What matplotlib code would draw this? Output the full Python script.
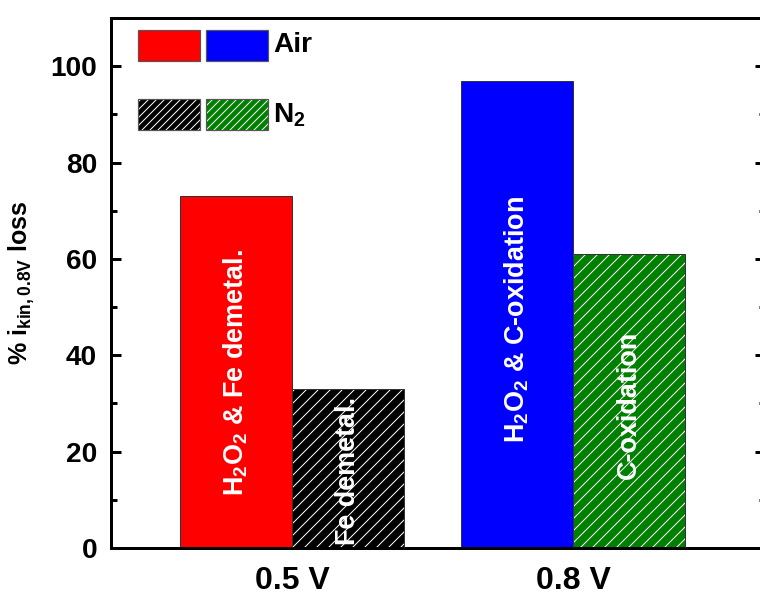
import matplotlib
matplotlib.use("Agg")
import matplotlib.pyplot as plt
from matplotlib.patches import Rectangle
from matplotlib.ticker import MultipleLocator

plt.rcParams['font.family'] = ['Liberation Sans', 'DejaVu Sans']
plt.rcParams['font.weight'] = 'bold'
plt.rcParams['mathtext.fontset'] = 'custom'
plt.rcParams['mathtext.rm'] = 'Liberation Sans:bold'
plt.rcParams['mathtext.bf'] = 'Liberation Sans:bold'
plt.rcParams['mathtext.it'] = 'Liberation Sans:bold'
plt.rcParams['mathtext.default'] = 'bf'
plt.rcParams['hatch.linewidth'] = 1.0

# data
groups = ['0.5 V', '0.8 V']
air_values = [73, 97]
n2_values = [33, 61]
air_colors = ['#ff0000', '#0000ff']
n2_colors = ['#000000', '#008000']
air_labels = ['H$_2$O$_2$ & Fe demetal.', 'H$_2$O$_2$ & C-oxidation']
n2_labels = ['Fe demetal.', 'C-oxidation']

W, H = 760, 592
DPI = 72
fig = plt.figure(figsize=(W / DPI, H / DPI), dpi=DPI)
ax = fig.add_axes([111 / W, 1 - 548 / H, 654 / W, 530 / H])

x = [1, 2]
bw = 0.4
for i in range(len(groups)):
    ax.bar(x[i] - bw / 2, air_values[i], bw, color=air_colors[i], edgecolor='#333333', linewidth=1, zorder=2)
    ax.bar(x[i] + bw / 2, n2_values[i], bw, color=n2_colors[i], edgecolor='white', hatch='//', linewidth=0, zorder=2)
    ax.bar(x[i] + bw / 2, n2_values[i], bw, fill=False, edgecolor='#333333', linewidth=1, zorder=3)

# in-bar text
air_text_y = [36.5, 47.5]
n2_text_y = [16, 29.7]
for i in range(len(groups)):
    ax.text(x[i] - bw / 2, air_text_y[i], air_labels[i], rotation=90, color='white',
            fontsize=27, fontweight='bold', ha='center', va='center', zorder=4)
    ax.text(x[i] + bw / 2, n2_text_y[i], n2_labels[i], rotation=90, color='white',
            fontsize=27, fontweight='bold', ha='center', va='center', zorder=4)

ax.set_xlim(0.356, 2.683)
ax.set_ylim(0, 110)
ax.set_xticks(x)
ax.set_xticklabels(groups, fontsize=32, fontweight='bold')
ax.tick_params(axis='x', length=0, pad=18)
ax.yaxis.set_major_locator(MultipleLocator(20))
ax.yaxis.set_minor_locator(MultipleLocator(10))
ax.tick_params(axis='y', which='major', direction='in', length=10, width=3,
               labelsize=28, pad=14, right=True)
ax.tick_params(axis='y', which='minor', direction='in', length=6, width=3, right=True)
ax.set_yticks([0, 20, 40, 60, 80, 100])
for lab in ax.get_yticklabels():
    lab.set_fontweight('bold')
for s in ax.spines.values():
    s.set_linewidth(3)

ax.set_ylabel('% i$_{kin,0.8V}$ loss', fontsize=25, fontweight='bold')
ax.yaxis.set_label_coords(-0.113, 0.5)

# legend boxes (figure pixel coordinates)
def px_rect(x0, y0, w, h, **kw):
    r = Rectangle((x0 / W, 1 - (y0 + h) / H), w / W, h / H, transform=fig.transFigure, **kw)
    fig.add_artist(r)

px_rect(138, 30, 62, 31, facecolor=air_colors[0], edgecolor='#555555', linewidth=1.2)
px_rect(206, 30, 62, 31, facecolor=air_colors[1], edgecolor='#555555', linewidth=1.2)
px_rect(138, 99, 62, 31, facecolor=n2_colors[0], edgecolor='white', hatch='///', linewidth=0)
px_rect(138, 99, 62, 31, fill=False, edgecolor='#555555', linewidth=1.2)
px_rect(206, 99, 62, 31, facecolor=n2_colors[1], edgecolor='white', hatch='///', linewidth=0)
px_rect(206, 99, 62, 31, fill=False, edgecolor='#555555', linewidth=1.2)
fig.text(273 / W, 1 - 45 / H, 'Air', fontsize=28, fontweight='bold', va='center', ha='left')
fig.text(273 / W, 1 - 115 / H, 'N$_2$', fontsize=28, fontweight='bold', va='center', ha='left')

fig.savefig('out.png', dpi=DPI)
